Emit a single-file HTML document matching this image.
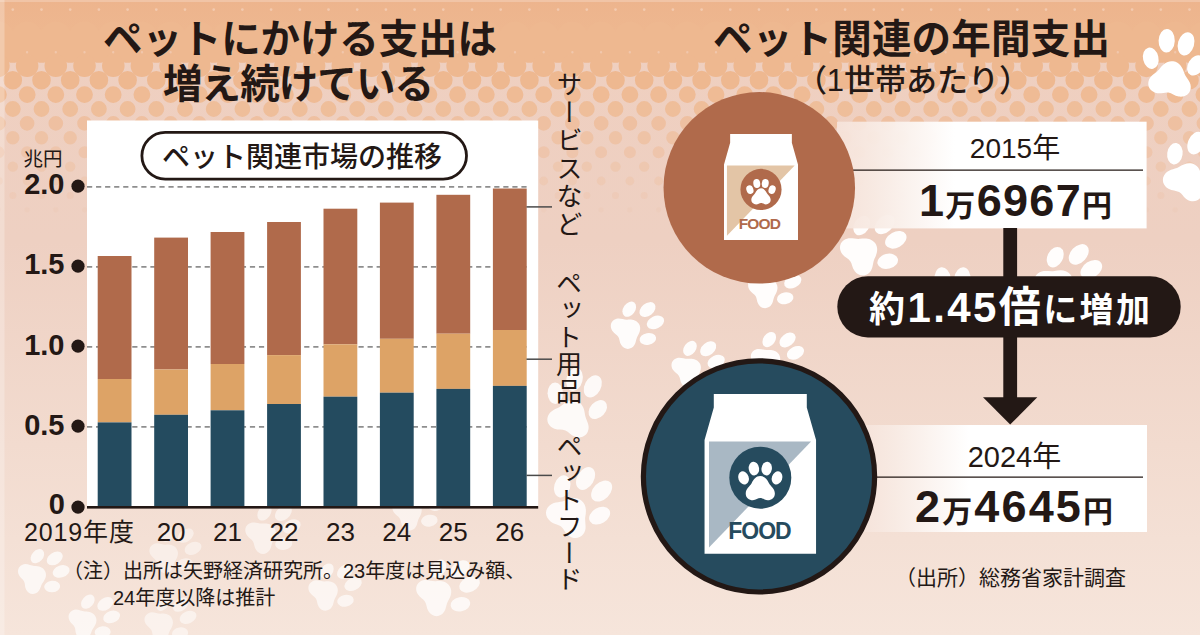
<!DOCTYPE html>
<html lang="ja"><head><meta charset="utf-8"><title>ペットにかける支出は増え続けている</title>
<style>
html,body{margin:0;padding:0;background:#f3ddd4;}
body{width:1200px;height:635px;overflow:hidden;position:relative;font-family:"Liberation Sans","Noto Sans CJK JP",sans-serif;}
svg{position:absolute;left:0;top:0;display:block;}
svg text{font-family:"Liberation Sans","Noto Sans CJK JP",sans-serif;}
</style></head><body>
<svg width="1200" height="635" viewBox="0 0 1200 635" role="img" aria-label="ペット関連市場の推移とペット関連の年間支出"><defs>
<linearGradient id="bg" x1="0" y1="0" x2="0" y2="1">
<stop offset="0" stop-color="#efcfbf"/><stop offset="0.38" stop-color="#eed0c2"/><stop offset="0.7" stop-color="#f2dbcf"/><stop offset="1" stop-color="#f6e5db"/>
</linearGradient>
<linearGradient id="topfade" x1="0" y1="0" x2="0" y2="1">
<stop offset="0" stop-color="#edb48d"/><stop offset="1" stop-color="#eeb890"/>
</linearGradient>
<linearGradient id="box" x1="0" y1="0" x2="1" y2="0">
<stop offset="0" stop-color="#f6e3da" stop-opacity="0.93"/><stop offset="0.12" stop-color="#f8ebe4" stop-opacity="0.95"/><stop offset="0.38" stop-color="#fff" stop-opacity="1"/><stop offset="1" stop-color="#fff"/>
</linearGradient>
<g id="paw">
<ellipse cx="-27" cy="0.5" rx="8.4" ry="10.8" transform="rotate(-20 -27 0.5)"/>
<ellipse cx="-10.3" cy="-14.5" rx="8.4" ry="11" transform="rotate(-8 -10.3 -14.5)"/>
<ellipse cx="10.3" cy="-14.5" rx="8.4" ry="11" transform="rotate(8 10.3 -14.5)"/>
<ellipse cx="27" cy="0.5" rx="8.4" ry="10.8" transform="rotate(20 27 0.5)"/>
<path d="M0,-2.5C7,-2.5 11,3 14,9C17,14.5 23.5,17.5 23.5,25.5C23.5,32.5 18,36.5 12,36.5C7,36.5 4,33 0,33C-4,33 -7,36.5 -12,36.5C-18,36.5 -23.5,32.5 -23.5,25.5C-23.5,17.5 -17,14.5 -14,9C-11,3 -7,-2.5 0,-2.5Z"/>
</g>
<g id="bpaw">
<ellipse cx="-22.8" cy="-17.7" rx="7.7" ry="10.8" transform="rotate(-22 -22.8 -17.7)"/>
<ellipse cx="-9.8" cy="-37.5" rx="8.1" ry="11.8" transform="rotate(-7 -9.8 -37.5)"/>
<ellipse cx="9.8" cy="-37.5" rx="8.1" ry="11.8" transform="rotate(7 9.8 -37.5)"/>
<ellipse cx="22.8" cy="-17.7" rx="7.7" ry="10.8" transform="rotate(22 22.8 -17.7)"/>
<path d="M0.0,-18.2C6.4,-18.2 10.1,-13.4 12.7,-8.2C15.5,-3.3 21.4,-0.8 21.4,6.2C21.4,12.3 16.4,15.8 10.9,15.8C6.4,15.8 3.6,13.4 0.0,13.4C-3.6,13.4 -6.4,15.8 -10.9,15.8C-16.4,15.8 -21.4,12.3 -21.4,6.2C-21.4,-0.8 -15.5,-3.3 -12.7,-8.2C-10.1,-13.4 -6.4,-18.2 0.0,-18.2Z"/>
</g>
<g id="bag">
<path fill="#fff" d="M-46.5,0H46.5V13.5L55.75,46V159.8H-55.75V46L-46.5,13.5Z"/>
</g>
</defs>
<rect width="1200" height="635" fill="url(#bg)"/>
<rect width="1200" height="40" fill="url(#topfade)"/>
<g><path fill="#eeb890" fill-opacity="1.00" d="M-45.8,37.0a15.5,15.5 0 1,0 31.0,0a15.5,15.5 0 1,0 -31.0,0M-17.1,37.0a15.5,15.5 0 1,0 31.0,0a15.5,15.5 0 1,0 -31.0,0M11.6,37.0a15.5,15.5 0 1,0 31.0,0a15.5,15.5 0 1,0 -31.0,0M40.3,37.0a15.5,15.5 0 1,0 31.0,0a15.5,15.5 0 1,0 -31.0,0M69.0,37.0a15.5,15.5 0 1,0 31.0,0a15.5,15.5 0 1,0 -31.0,0M97.8,37.0a15.5,15.5 0 1,0 31.0,0a15.5,15.5 0 1,0 -31.0,0M126.4,37.0a15.5,15.5 0 1,0 31.0,0a15.5,15.5 0 1,0 -31.0,0M155.1,37.0a15.5,15.5 0 1,0 31.0,0a15.5,15.5 0 1,0 -31.0,0M183.8,37.0a15.5,15.5 0 1,0 31.0,0a15.5,15.5 0 1,0 -31.0,0M212.5,37.0a15.5,15.5 0 1,0 31.0,0a15.5,15.5 0 1,0 -31.0,0M241.2,37.0a15.5,15.5 0 1,0 31.0,0a15.5,15.5 0 1,0 -31.0,0M269.9,37.0a15.5,15.5 0 1,0 31.0,0a15.5,15.5 0 1,0 -31.0,0M298.6,37.0a15.5,15.5 0 1,0 31.0,0a15.5,15.5 0 1,0 -31.0,0M327.3,37.0a15.5,15.5 0 1,0 31.0,0a15.5,15.5 0 1,0 -31.0,0M356.0,37.0a15.5,15.5 0 1,0 31.0,0a15.5,15.5 0 1,0 -31.0,0M384.7,37.0a15.5,15.5 0 1,0 31.0,0a15.5,15.5 0 1,0 -31.0,0M413.4,37.0a15.5,15.5 0 1,0 31.0,0a15.5,15.5 0 1,0 -31.0,0M442.1,37.0a15.5,15.5 0 1,0 31.0,0a15.5,15.5 0 1,0 -31.0,0M470.8,37.0a15.5,15.5 0 1,0 31.0,0a15.5,15.5 0 1,0 -31.0,0M499.5,37.0a15.5,15.5 0 1,0 31.0,0a15.5,15.5 0 1,0 -31.0,0M528.2,37.0a15.5,15.5 0 1,0 31.0,0a15.5,15.5 0 1,0 -31.0,0M556.9,37.0a15.5,15.5 0 1,0 31.0,0a15.5,15.5 0 1,0 -31.0,0M585.6,37.0a15.5,15.5 0 1,0 31.0,0a15.5,15.5 0 1,0 -31.0,0M614.4,37.0a15.5,15.5 0 1,0 31.0,0a15.5,15.5 0 1,0 -31.0,0M643.1,37.0a15.5,15.5 0 1,0 31.0,0a15.5,15.5 0 1,0 -31.0,0M671.8,37.0a15.5,15.5 0 1,0 31.0,0a15.5,15.5 0 1,0 -31.0,0M700.5,37.0a15.5,15.5 0 1,0 31.0,0a15.5,15.5 0 1,0 -31.0,0M729.2,37.0a15.5,15.5 0 1,0 31.0,0a15.5,15.5 0 1,0 -31.0,0M757.9,37.0a15.5,15.5 0 1,0 31.0,0a15.5,15.5 0 1,0 -31.0,0M786.6,37.0a15.5,15.5 0 1,0 31.0,0a15.5,15.5 0 1,0 -31.0,0M815.3,37.0a15.5,15.5 0 1,0 31.0,0a15.5,15.5 0 1,0 -31.0,0M844.0,37.0a15.5,15.5 0 1,0 31.0,0a15.5,15.5 0 1,0 -31.0,0M872.7,37.0a15.5,15.5 0 1,0 31.0,0a15.5,15.5 0 1,0 -31.0,0M901.4,37.0a15.5,15.5 0 1,0 31.0,0a15.5,15.5 0 1,0 -31.0,0M930.1,37.0a15.5,15.5 0 1,0 31.0,0a15.5,15.5 0 1,0 -31.0,0M958.8,37.0a15.5,15.5 0 1,0 31.0,0a15.5,15.5 0 1,0 -31.0,0M987.5,37.0a15.5,15.5 0 1,0 31.0,0a15.5,15.5 0 1,0 -31.0,0M1016.2,37.0a15.5,15.5 0 1,0 31.0,0a15.5,15.5 0 1,0 -31.0,0M1044.9,37.0a15.5,15.5 0 1,0 31.0,0a15.5,15.5 0 1,0 -31.0,0M1073.6,37.0a15.5,15.5 0 1,0 31.0,0a15.5,15.5 0 1,0 -31.0,0M1102.3,37.0a15.5,15.5 0 1,0 31.0,0a15.5,15.5 0 1,0 -31.0,0M1131.0,37.0a15.5,15.5 0 1,0 31.0,0a15.5,15.5 0 1,0 -31.0,0M1159.7,37.0a15.5,15.5 0 1,0 31.0,0a15.5,15.5 0 1,0 -31.0,0M1188.4,37.0a15.5,15.5 0 1,0 31.0,0a15.5,15.5 0 1,0 -31.0,0"/><path fill="#eeb890" fill-opacity="1.00" d="M-56.0,51.4a11.4,11.4 0 1,0 22.8,0a11.4,11.4 0 1,0 -22.8,0M-27.3,51.4a11.4,11.4 0 1,0 22.8,0a11.4,11.4 0 1,0 -22.8,0M1.4,51.4a11.4,11.4 0 1,0 22.8,0a11.4,11.4 0 1,0 -22.8,0M30.1,51.4a11.4,11.4 0 1,0 22.8,0a11.4,11.4 0 1,0 -22.8,0M58.8,51.4a11.4,11.4 0 1,0 22.8,0a11.4,11.4 0 1,0 -22.8,0M87.5,51.4a11.4,11.4 0 1,0 22.8,0a11.4,11.4 0 1,0 -22.8,0M116.2,51.4a11.4,11.4 0 1,0 22.8,0a11.4,11.4 0 1,0 -22.8,0M144.9,51.4a11.4,11.4 0 1,0 22.8,0a11.4,11.4 0 1,0 -22.8,0M173.6,51.4a11.4,11.4 0 1,0 22.8,0a11.4,11.4 0 1,0 -22.8,0M202.3,51.4a11.4,11.4 0 1,0 22.8,0a11.4,11.4 0 1,0 -22.8,0M231.0,51.4a11.4,11.4 0 1,0 22.8,0a11.4,11.4 0 1,0 -22.8,0M259.7,51.4a11.4,11.4 0 1,0 22.8,0a11.4,11.4 0 1,0 -22.8,0M288.4,51.4a11.4,11.4 0 1,0 22.8,0a11.4,11.4 0 1,0 -22.8,0M317.1,51.4a11.4,11.4 0 1,0 22.8,0a11.4,11.4 0 1,0 -22.8,0M345.8,51.4a11.4,11.4 0 1,0 22.8,0a11.4,11.4 0 1,0 -22.8,0M374.5,51.4a11.4,11.4 0 1,0 22.8,0a11.4,11.4 0 1,0 -22.8,0M403.2,51.4a11.4,11.4 0 1,0 22.8,0a11.4,11.4 0 1,0 -22.8,0M431.9,51.4a11.4,11.4 0 1,0 22.8,0a11.4,11.4 0 1,0 -22.8,0M460.6,51.4a11.4,11.4 0 1,0 22.8,0a11.4,11.4 0 1,0 -22.8,0M489.3,51.4a11.4,11.4 0 1,0 22.8,0a11.4,11.4 0 1,0 -22.8,0M518.0,51.4a11.4,11.4 0 1,0 22.8,0a11.4,11.4 0 1,0 -22.8,0M546.7,51.4a11.4,11.4 0 1,0 22.8,0a11.4,11.4 0 1,0 -22.8,0M575.4,51.4a11.4,11.4 0 1,0 22.8,0a11.4,11.4 0 1,0 -22.8,0M604.1,51.4a11.4,11.4 0 1,0 22.8,0a11.4,11.4 0 1,0 -22.8,0M632.8,51.4a11.4,11.4 0 1,0 22.8,0a11.4,11.4 0 1,0 -22.8,0M661.5,51.4a11.4,11.4 0 1,0 22.8,0a11.4,11.4 0 1,0 -22.8,0M690.2,51.4a11.4,11.4 0 1,0 22.8,0a11.4,11.4 0 1,0 -22.8,0M718.9,51.4a11.4,11.4 0 1,0 22.8,0a11.4,11.4 0 1,0 -22.8,0M747.6,51.4a11.4,11.4 0 1,0 22.8,0a11.4,11.4 0 1,0 -22.8,0M776.3,51.4a11.4,11.4 0 1,0 22.8,0a11.4,11.4 0 1,0 -22.8,0M805.0,51.4a11.4,11.4 0 1,0 22.8,0a11.4,11.4 0 1,0 -22.8,0M833.7,51.4a11.4,11.4 0 1,0 22.8,0a11.4,11.4 0 1,0 -22.8,0M862.4,51.4a11.4,11.4 0 1,0 22.8,0a11.4,11.4 0 1,0 -22.8,0M891.1,51.4a11.4,11.4 0 1,0 22.8,0a11.4,11.4 0 1,0 -22.8,0M919.8,51.4a11.4,11.4 0 1,0 22.8,0a11.4,11.4 0 1,0 -22.8,0M948.5,51.4a11.4,11.4 0 1,0 22.8,0a11.4,11.4 0 1,0 -22.8,0M977.2,51.4a11.4,11.4 0 1,0 22.8,0a11.4,11.4 0 1,0 -22.8,0M1005.9,51.4a11.4,11.4 0 1,0 22.8,0a11.4,11.4 0 1,0 -22.8,0M1034.6,51.4a11.4,11.4 0 1,0 22.8,0a11.4,11.4 0 1,0 -22.8,0M1063.3,51.4a11.4,11.4 0 1,0 22.8,0a11.4,11.4 0 1,0 -22.8,0M1092.0,51.4a11.4,11.4 0 1,0 22.8,0a11.4,11.4 0 1,0 -22.8,0M1120.7,51.4a11.4,11.4 0 1,0 22.8,0a11.4,11.4 0 1,0 -22.8,0M1149.4,51.4a11.4,11.4 0 1,0 22.8,0a11.4,11.4 0 1,0 -22.8,0M1178.1,51.4a11.4,11.4 0 1,0 22.8,0a11.4,11.4 0 1,0 -22.8,0M1206.8,51.4a11.4,11.4 0 1,0 22.8,0a11.4,11.4 0 1,0 -22.8,0"/><path fill="#eeb890" fill-opacity="1.00" d="M-41.5,65.8a11.3,11.3 0 1,0 22.6,0a11.3,11.3 0 1,0 -22.6,0M-12.9,65.8a11.3,11.3 0 1,0 22.6,0a11.3,11.3 0 1,0 -22.6,0M15.8,65.8a11.3,11.3 0 1,0 22.6,0a11.3,11.3 0 1,0 -22.6,0M44.5,65.8a11.3,11.3 0 1,0 22.6,0a11.3,11.3 0 1,0 -22.6,0M73.2,65.8a11.3,11.3 0 1,0 22.6,0a11.3,11.3 0 1,0 -22.6,0M102.0,65.8a11.3,11.3 0 1,0 22.6,0a11.3,11.3 0 1,0 -22.6,0M130.6,65.8a11.3,11.3 0 1,0 22.6,0a11.3,11.3 0 1,0 -22.6,0M159.3,65.8a11.3,11.3 0 1,0 22.6,0a11.3,11.3 0 1,0 -22.6,0M188.0,65.8a11.3,11.3 0 1,0 22.6,0a11.3,11.3 0 1,0 -22.6,0M216.7,65.8a11.3,11.3 0 1,0 22.6,0a11.3,11.3 0 1,0 -22.6,0M245.4,65.8a11.3,11.3 0 1,0 22.6,0a11.3,11.3 0 1,0 -22.6,0M274.1,65.8a11.3,11.3 0 1,0 22.6,0a11.3,11.3 0 1,0 -22.6,0M302.8,65.8a11.3,11.3 0 1,0 22.6,0a11.3,11.3 0 1,0 -22.6,0M331.5,65.8a11.3,11.3 0 1,0 22.6,0a11.3,11.3 0 1,0 -22.6,0M360.2,65.8a11.3,11.3 0 1,0 22.6,0a11.3,11.3 0 1,0 -22.6,0M388.9,65.8a11.3,11.3 0 1,0 22.6,0a11.3,11.3 0 1,0 -22.6,0M417.6,65.8a11.3,11.3 0 1,0 22.6,0a11.3,11.3 0 1,0 -22.6,0M446.3,65.8a11.3,11.3 0 1,0 22.6,0a11.3,11.3 0 1,0 -22.6,0M475.0,65.8a11.3,11.3 0 1,0 22.6,0a11.3,11.3 0 1,0 -22.6,0M503.7,65.8a11.3,11.3 0 1,0 22.6,0a11.3,11.3 0 1,0 -22.6,0M532.4,65.8a11.3,11.3 0 1,0 22.6,0a11.3,11.3 0 1,0 -22.6,0M561.1,65.8a11.3,11.3 0 1,0 22.6,0a11.3,11.3 0 1,0 -22.6,0M589.9,65.8a11.3,11.3 0 1,0 22.6,0a11.3,11.3 0 1,0 -22.6,0M618.6,65.8a11.3,11.3 0 1,0 22.6,0a11.3,11.3 0 1,0 -22.6,0M647.3,65.8a11.3,11.3 0 1,0 22.6,0a11.3,11.3 0 1,0 -22.6,0M676.0,65.8a11.3,11.3 0 1,0 22.6,0a11.3,11.3 0 1,0 -22.6,0M704.7,65.8a11.3,11.3 0 1,0 22.6,0a11.3,11.3 0 1,0 -22.6,0M733.4,65.8a11.3,11.3 0 1,0 22.6,0a11.3,11.3 0 1,0 -22.6,0M762.1,65.8a11.3,11.3 0 1,0 22.6,0a11.3,11.3 0 1,0 -22.6,0M790.8,65.8a11.3,11.3 0 1,0 22.6,0a11.3,11.3 0 1,0 -22.6,0M819.5,65.8a11.3,11.3 0 1,0 22.6,0a11.3,11.3 0 1,0 -22.6,0M848.2,65.8a11.3,11.3 0 1,0 22.6,0a11.3,11.3 0 1,0 -22.6,0M876.9,65.8a11.3,11.3 0 1,0 22.6,0a11.3,11.3 0 1,0 -22.6,0M905.6,65.8a11.3,11.3 0 1,0 22.6,0a11.3,11.3 0 1,0 -22.6,0M934.3,65.8a11.3,11.3 0 1,0 22.6,0a11.3,11.3 0 1,0 -22.6,0M963.0,65.8a11.3,11.3 0 1,0 22.6,0a11.3,11.3 0 1,0 -22.6,0M991.7,65.8a11.3,11.3 0 1,0 22.6,0a11.3,11.3 0 1,0 -22.6,0M1020.4,65.8a11.3,11.3 0 1,0 22.6,0a11.3,11.3 0 1,0 -22.6,0M1049.1,65.8a11.3,11.3 0 1,0 22.6,0a11.3,11.3 0 1,0 -22.6,0M1077.8,65.8a11.3,11.3 0 1,0 22.6,0a11.3,11.3 0 1,0 -22.6,0M1106.5,65.8a11.3,11.3 0 1,0 22.6,0a11.3,11.3 0 1,0 -22.6,0M1135.2,65.8a11.3,11.3 0 1,0 22.6,0a11.3,11.3 0 1,0 -22.6,0M1163.9,65.8a11.3,11.3 0 1,0 22.6,0a11.3,11.3 0 1,0 -22.6,0M1192.6,65.8a11.3,11.3 0 1,0 22.6,0a11.3,11.3 0 1,0 -22.6,0"/><path fill="#eeb890" fill-opacity="1.00" d="M-53.9,80.2a9.3,9.3 0 1,0 18.6,0a9.3,9.3 0 1,0 -18.6,0M-25.2,80.2a9.3,9.3 0 1,0 18.6,0a9.3,9.3 0 1,0 -18.6,0M3.5,80.2a9.3,9.3 0 1,0 18.6,0a9.3,9.3 0 1,0 -18.6,0M32.2,80.2a9.3,9.3 0 1,0 18.6,0a9.3,9.3 0 1,0 -18.6,0M60.9,80.2a9.3,9.3 0 1,0 18.6,0a9.3,9.3 0 1,0 -18.6,0M89.6,80.2a9.3,9.3 0 1,0 18.6,0a9.3,9.3 0 1,0 -18.6,0M118.3,80.2a9.3,9.3 0 1,0 18.6,0a9.3,9.3 0 1,0 -18.6,0M147.0,80.2a9.3,9.3 0 1,0 18.6,0a9.3,9.3 0 1,0 -18.6,0M175.7,80.2a9.3,9.3 0 1,0 18.6,0a9.3,9.3 0 1,0 -18.6,0M204.4,80.2a9.3,9.3 0 1,0 18.6,0a9.3,9.3 0 1,0 -18.6,0M233.1,80.2a9.3,9.3 0 1,0 18.6,0a9.3,9.3 0 1,0 -18.6,0M261.8,80.2a9.3,9.3 0 1,0 18.6,0a9.3,9.3 0 1,0 -18.6,0M290.5,80.2a9.3,9.3 0 1,0 18.6,0a9.3,9.3 0 1,0 -18.6,0M319.2,80.2a9.3,9.3 0 1,0 18.6,0a9.3,9.3 0 1,0 -18.6,0M347.9,80.2a9.3,9.3 0 1,0 18.6,0a9.3,9.3 0 1,0 -18.6,0M376.6,80.2a9.3,9.3 0 1,0 18.6,0a9.3,9.3 0 1,0 -18.6,0M405.3,80.2a9.3,9.3 0 1,0 18.6,0a9.3,9.3 0 1,0 -18.6,0M434.0,80.2a9.3,9.3 0 1,0 18.6,0a9.3,9.3 0 1,0 -18.6,0M462.7,80.2a9.3,9.3 0 1,0 18.6,0a9.3,9.3 0 1,0 -18.6,0M491.4,80.2a9.3,9.3 0 1,0 18.6,0a9.3,9.3 0 1,0 -18.6,0M520.1,80.2a9.3,9.3 0 1,0 18.6,0a9.3,9.3 0 1,0 -18.6,0M548.8,80.2a9.3,9.3 0 1,0 18.6,0a9.3,9.3 0 1,0 -18.6,0M577.5,80.2a9.3,9.3 0 1,0 18.6,0a9.3,9.3 0 1,0 -18.6,0M606.2,80.2a9.3,9.3 0 1,0 18.6,0a9.3,9.3 0 1,0 -18.6,0M634.9,80.2a9.3,9.3 0 1,0 18.6,0a9.3,9.3 0 1,0 -18.6,0M663.6,80.2a9.3,9.3 0 1,0 18.6,0a9.3,9.3 0 1,0 -18.6,0M692.3,80.2a9.3,9.3 0 1,0 18.6,0a9.3,9.3 0 1,0 -18.6,0M721.0,80.2a9.3,9.3 0 1,0 18.6,0a9.3,9.3 0 1,0 -18.6,0M749.7,80.2a9.3,9.3 0 1,0 18.6,0a9.3,9.3 0 1,0 -18.6,0M778.4,80.2a9.3,9.3 0 1,0 18.6,0a9.3,9.3 0 1,0 -18.6,0M807.1,80.2a9.3,9.3 0 1,0 18.6,0a9.3,9.3 0 1,0 -18.6,0M835.8,80.2a9.3,9.3 0 1,0 18.6,0a9.3,9.3 0 1,0 -18.6,0M864.5,80.2a9.3,9.3 0 1,0 18.6,0a9.3,9.3 0 1,0 -18.6,0M893.2,80.2a9.3,9.3 0 1,0 18.6,0a9.3,9.3 0 1,0 -18.6,0M921.9,80.2a9.3,9.3 0 1,0 18.6,0a9.3,9.3 0 1,0 -18.6,0M950.6,80.2a9.3,9.3 0 1,0 18.6,0a9.3,9.3 0 1,0 -18.6,0M979.3,80.2a9.3,9.3 0 1,0 18.6,0a9.3,9.3 0 1,0 -18.6,0M1008.0,80.2a9.3,9.3 0 1,0 18.6,0a9.3,9.3 0 1,0 -18.6,0M1036.7,80.2a9.3,9.3 0 1,0 18.6,0a9.3,9.3 0 1,0 -18.6,0M1065.4,80.2a9.3,9.3 0 1,0 18.6,0a9.3,9.3 0 1,0 -18.6,0M1094.1,80.2a9.3,9.3 0 1,0 18.6,0a9.3,9.3 0 1,0 -18.6,0M1122.8,80.2a9.3,9.3 0 1,0 18.6,0a9.3,9.3 0 1,0 -18.6,0M1151.5,80.2a9.3,9.3 0 1,0 18.6,0a9.3,9.3 0 1,0 -18.6,0M1180.2,80.2a9.3,9.3 0 1,0 18.6,0a9.3,9.3 0 1,0 -18.6,0M1208.9,80.2a9.3,9.3 0 1,0 18.6,0a9.3,9.3 0 1,0 -18.6,0"/><path fill="#eeb890" fill-opacity="0.90" d="M-38.6,94.6a8.4,8.4 0 1,0 16.8,0a8.4,8.4 0 1,0 -16.8,0M-10.0,94.6a8.4,8.4 0 1,0 16.8,0a8.4,8.4 0 1,0 -16.8,0M18.8,94.6a8.4,8.4 0 1,0 16.8,0a8.4,8.4 0 1,0 -16.8,0M47.4,94.6a8.4,8.4 0 1,0 16.8,0a8.4,8.4 0 1,0 -16.8,0M76.1,94.6a8.4,8.4 0 1,0 16.8,0a8.4,8.4 0 1,0 -16.8,0M104.8,94.6a8.4,8.4 0 1,0 16.8,0a8.4,8.4 0 1,0 -16.8,0M133.5,94.6a8.4,8.4 0 1,0 16.8,0a8.4,8.4 0 1,0 -16.8,0M162.2,94.6a8.4,8.4 0 1,0 16.8,0a8.4,8.4 0 1,0 -16.8,0M190.9,94.6a8.4,8.4 0 1,0 16.8,0a8.4,8.4 0 1,0 -16.8,0M219.6,94.6a8.4,8.4 0 1,0 16.8,0a8.4,8.4 0 1,0 -16.8,0M248.3,94.6a8.4,8.4 0 1,0 16.8,0a8.4,8.4 0 1,0 -16.8,0M277.0,94.6a8.4,8.4 0 1,0 16.8,0a8.4,8.4 0 1,0 -16.8,0M305.7,94.6a8.4,8.4 0 1,0 16.8,0a8.4,8.4 0 1,0 -16.8,0M334.4,94.6a8.4,8.4 0 1,0 16.8,0a8.4,8.4 0 1,0 -16.8,0M363.1,94.6a8.4,8.4 0 1,0 16.8,0a8.4,8.4 0 1,0 -16.8,0M391.8,94.6a8.4,8.4 0 1,0 16.8,0a8.4,8.4 0 1,0 -16.8,0M420.5,94.6a8.4,8.4 0 1,0 16.8,0a8.4,8.4 0 1,0 -16.8,0M449.2,94.6a8.4,8.4 0 1,0 16.8,0a8.4,8.4 0 1,0 -16.8,0M477.9,94.6a8.4,8.4 0 1,0 16.8,0a8.4,8.4 0 1,0 -16.8,0M506.6,94.6a8.4,8.4 0 1,0 16.8,0a8.4,8.4 0 1,0 -16.8,0M535.3,94.6a8.4,8.4 0 1,0 16.8,0a8.4,8.4 0 1,0 -16.8,0M564.0,94.6a8.4,8.4 0 1,0 16.8,0a8.4,8.4 0 1,0 -16.8,0M592.8,94.6a8.4,8.4 0 1,0 16.8,0a8.4,8.4 0 1,0 -16.8,0M621.5,94.6a8.4,8.4 0 1,0 16.8,0a8.4,8.4 0 1,0 -16.8,0M650.2,94.6a8.4,8.4 0 1,0 16.8,0a8.4,8.4 0 1,0 -16.8,0M678.9,94.6a8.4,8.4 0 1,0 16.8,0a8.4,8.4 0 1,0 -16.8,0M707.6,94.6a8.4,8.4 0 1,0 16.8,0a8.4,8.4 0 1,0 -16.8,0M736.3,94.6a8.4,8.4 0 1,0 16.8,0a8.4,8.4 0 1,0 -16.8,0M765.0,94.6a8.4,8.4 0 1,0 16.8,0a8.4,8.4 0 1,0 -16.8,0M793.7,94.6a8.4,8.4 0 1,0 16.8,0a8.4,8.4 0 1,0 -16.8,0M822.4,94.6a8.4,8.4 0 1,0 16.8,0a8.4,8.4 0 1,0 -16.8,0M851.1,94.6a8.4,8.4 0 1,0 16.8,0a8.4,8.4 0 1,0 -16.8,0M879.8,94.6a8.4,8.4 0 1,0 16.8,0a8.4,8.4 0 1,0 -16.8,0M908.5,94.6a8.4,8.4 0 1,0 16.8,0a8.4,8.4 0 1,0 -16.8,0M937.2,94.6a8.4,8.4 0 1,0 16.8,0a8.4,8.4 0 1,0 -16.8,0M965.9,94.6a8.4,8.4 0 1,0 16.8,0a8.4,8.4 0 1,0 -16.8,0M994.6,94.6a8.4,8.4 0 1,0 16.8,0a8.4,8.4 0 1,0 -16.8,0M1023.3,94.6a8.4,8.4 0 1,0 16.8,0a8.4,8.4 0 1,0 -16.8,0M1052.0,94.6a8.4,8.4 0 1,0 16.8,0a8.4,8.4 0 1,0 -16.8,0M1080.7,94.6a8.4,8.4 0 1,0 16.8,0a8.4,8.4 0 1,0 -16.8,0M1109.4,94.6a8.4,8.4 0 1,0 16.8,0a8.4,8.4 0 1,0 -16.8,0M1138.1,94.6a8.4,8.4 0 1,0 16.8,0a8.4,8.4 0 1,0 -16.8,0M1166.8,94.6a8.4,8.4 0 1,0 16.8,0a8.4,8.4 0 1,0 -16.8,0M1195.5,94.6a8.4,8.4 0 1,0 16.8,0a8.4,8.4 0 1,0 -16.8,0"/><path fill="#eeb890" fill-opacity="0.78" d="M-52.5,109.0a7.9,7.9 0 1,0 15.8,0a7.9,7.9 0 1,0 -15.8,0M-23.8,109.0a7.9,7.9 0 1,0 15.8,0a7.9,7.9 0 1,0 -15.8,0M4.9,109.0a7.9,7.9 0 1,0 15.8,0a7.9,7.9 0 1,0 -15.8,0M33.6,109.0a7.9,7.9 0 1,0 15.8,0a7.9,7.9 0 1,0 -15.8,0M62.3,109.0a7.9,7.9 0 1,0 15.8,0a7.9,7.9 0 1,0 -15.8,0M91.0,109.0a7.9,7.9 0 1,0 15.8,0a7.9,7.9 0 1,0 -15.8,0M119.7,109.0a7.9,7.9 0 1,0 15.8,0a7.9,7.9 0 1,0 -15.8,0M148.4,109.0a7.9,7.9 0 1,0 15.8,0a7.9,7.9 0 1,0 -15.8,0M177.1,109.0a7.9,7.9 0 1,0 15.8,0a7.9,7.9 0 1,0 -15.8,0M205.8,109.0a7.9,7.9 0 1,0 15.8,0a7.9,7.9 0 1,0 -15.8,0M234.5,109.0a7.9,7.9 0 1,0 15.8,0a7.9,7.9 0 1,0 -15.8,0M263.2,109.0a7.9,7.9 0 1,0 15.8,0a7.9,7.9 0 1,0 -15.8,0M291.9,109.0a7.9,7.9 0 1,0 15.8,0a7.9,7.9 0 1,0 -15.8,0M320.6,109.0a7.9,7.9 0 1,0 15.8,0a7.9,7.9 0 1,0 -15.8,0M349.3,109.0a7.9,7.9 0 1,0 15.8,0a7.9,7.9 0 1,0 -15.8,0M378.0,109.0a7.9,7.9 0 1,0 15.8,0a7.9,7.9 0 1,0 -15.8,0M406.7,109.0a7.9,7.9 0 1,0 15.8,0a7.9,7.9 0 1,0 -15.8,0M435.4,109.0a7.9,7.9 0 1,0 15.8,0a7.9,7.9 0 1,0 -15.8,0M464.1,109.0a7.9,7.9 0 1,0 15.8,0a7.9,7.9 0 1,0 -15.8,0M492.8,109.0a7.9,7.9 0 1,0 15.8,0a7.9,7.9 0 1,0 -15.8,0M521.5,109.0a7.9,7.9 0 1,0 15.8,0a7.9,7.9 0 1,0 -15.8,0M550.2,109.0a7.9,7.9 0 1,0 15.8,0a7.9,7.9 0 1,0 -15.8,0M578.9,109.0a7.9,7.9 0 1,0 15.8,0a7.9,7.9 0 1,0 -15.8,0M607.6,109.0a7.9,7.9 0 1,0 15.8,0a7.9,7.9 0 1,0 -15.8,0M636.3,109.0a7.9,7.9 0 1,0 15.8,0a7.9,7.9 0 1,0 -15.8,0M665.0,109.0a7.9,7.9 0 1,0 15.8,0a7.9,7.9 0 1,0 -15.8,0M693.7,109.0a7.9,7.9 0 1,0 15.8,0a7.9,7.9 0 1,0 -15.8,0M722.4,109.0a7.9,7.9 0 1,0 15.8,0a7.9,7.9 0 1,0 -15.8,0M751.1,109.0a7.9,7.9 0 1,0 15.8,0a7.9,7.9 0 1,0 -15.8,0M779.8,109.0a7.9,7.9 0 1,0 15.8,0a7.9,7.9 0 1,0 -15.8,0M808.5,109.0a7.9,7.9 0 1,0 15.8,0a7.9,7.9 0 1,0 -15.8,0M837.2,109.0a7.9,7.9 0 1,0 15.8,0a7.9,7.9 0 1,0 -15.8,0M865.9,109.0a7.9,7.9 0 1,0 15.8,0a7.9,7.9 0 1,0 -15.8,0M894.6,109.0a7.9,7.9 0 1,0 15.8,0a7.9,7.9 0 1,0 -15.8,0M923.3,109.0a7.9,7.9 0 1,0 15.8,0a7.9,7.9 0 1,0 -15.8,0M952.0,109.0a7.9,7.9 0 1,0 15.8,0a7.9,7.9 0 1,0 -15.8,0M980.7,109.0a7.9,7.9 0 1,0 15.8,0a7.9,7.9 0 1,0 -15.8,0M1009.4,109.0a7.9,7.9 0 1,0 15.8,0a7.9,7.9 0 1,0 -15.8,0M1038.1,109.0a7.9,7.9 0 1,0 15.8,0a7.9,7.9 0 1,0 -15.8,0M1066.8,109.0a7.9,7.9 0 1,0 15.8,0a7.9,7.9 0 1,0 -15.8,0M1095.5,109.0a7.9,7.9 0 1,0 15.8,0a7.9,7.9 0 1,0 -15.8,0M1124.2,109.0a7.9,7.9 0 1,0 15.8,0a7.9,7.9 0 1,0 -15.8,0M1152.9,109.0a7.9,7.9 0 1,0 15.8,0a7.9,7.9 0 1,0 -15.8,0M1181.6,109.0a7.9,7.9 0 1,0 15.8,0a7.9,7.9 0 1,0 -15.8,0M1210.3,109.0a7.9,7.9 0 1,0 15.8,0a7.9,7.9 0 1,0 -15.8,0"/><path fill="#eeb890" fill-opacity="0.66" d="M-37.5,123.4a7.3,7.3 0 1,0 14.6,0a7.3,7.3 0 1,0 -14.6,0M-8.9,123.4a7.3,7.3 0 1,0 14.6,0a7.3,7.3 0 1,0 -14.6,0M19.8,123.4a7.3,7.3 0 1,0 14.6,0a7.3,7.3 0 1,0 -14.6,0M48.5,123.4a7.3,7.3 0 1,0 14.6,0a7.3,7.3 0 1,0 -14.6,0M77.2,123.4a7.3,7.3 0 1,0 14.6,0a7.3,7.3 0 1,0 -14.6,0M106.0,123.4a7.3,7.3 0 1,0 14.6,0a7.3,7.3 0 1,0 -14.6,0M134.6,123.4a7.3,7.3 0 1,0 14.6,0a7.3,7.3 0 1,0 -14.6,0M163.3,123.4a7.3,7.3 0 1,0 14.6,0a7.3,7.3 0 1,0 -14.6,0M192.0,123.4a7.3,7.3 0 1,0 14.6,0a7.3,7.3 0 1,0 -14.6,0M220.7,123.4a7.3,7.3 0 1,0 14.6,0a7.3,7.3 0 1,0 -14.6,0M249.4,123.4a7.3,7.3 0 1,0 14.6,0a7.3,7.3 0 1,0 -14.6,0M278.1,123.4a7.3,7.3 0 1,0 14.6,0a7.3,7.3 0 1,0 -14.6,0M306.8,123.4a7.3,7.3 0 1,0 14.6,0a7.3,7.3 0 1,0 -14.6,0M335.5,123.4a7.3,7.3 0 1,0 14.6,0a7.3,7.3 0 1,0 -14.6,0M364.2,123.4a7.3,7.3 0 1,0 14.6,0a7.3,7.3 0 1,0 -14.6,0M392.9,123.4a7.3,7.3 0 1,0 14.6,0a7.3,7.3 0 1,0 -14.6,0M421.6,123.4a7.3,7.3 0 1,0 14.6,0a7.3,7.3 0 1,0 -14.6,0M450.3,123.4a7.3,7.3 0 1,0 14.6,0a7.3,7.3 0 1,0 -14.6,0M479.0,123.4a7.3,7.3 0 1,0 14.6,0a7.3,7.3 0 1,0 -14.6,0M507.7,123.4a7.3,7.3 0 1,0 14.6,0a7.3,7.3 0 1,0 -14.6,0M536.4,123.4a7.3,7.3 0 1,0 14.6,0a7.3,7.3 0 1,0 -14.6,0M565.1,123.4a7.3,7.3 0 1,0 14.6,0a7.3,7.3 0 1,0 -14.6,0M593.9,123.4a7.3,7.3 0 1,0 14.6,0a7.3,7.3 0 1,0 -14.6,0M622.6,123.4a7.3,7.3 0 1,0 14.6,0a7.3,7.3 0 1,0 -14.6,0M651.3,123.4a7.3,7.3 0 1,0 14.6,0a7.3,7.3 0 1,0 -14.6,0M680.0,123.4a7.3,7.3 0 1,0 14.6,0a7.3,7.3 0 1,0 -14.6,0M708.7,123.4a7.3,7.3 0 1,0 14.6,0a7.3,7.3 0 1,0 -14.6,0M737.4,123.4a7.3,7.3 0 1,0 14.6,0a7.3,7.3 0 1,0 -14.6,0M766.1,123.4a7.3,7.3 0 1,0 14.6,0a7.3,7.3 0 1,0 -14.6,0M794.8,123.4a7.3,7.3 0 1,0 14.6,0a7.3,7.3 0 1,0 -14.6,0M823.5,123.4a7.3,7.3 0 1,0 14.6,0a7.3,7.3 0 1,0 -14.6,0M852.2,123.4a7.3,7.3 0 1,0 14.6,0a7.3,7.3 0 1,0 -14.6,0M880.9,123.4a7.3,7.3 0 1,0 14.6,0a7.3,7.3 0 1,0 -14.6,0M909.6,123.4a7.3,7.3 0 1,0 14.6,0a7.3,7.3 0 1,0 -14.6,0M938.3,123.4a7.3,7.3 0 1,0 14.6,0a7.3,7.3 0 1,0 -14.6,0M967.0,123.4a7.3,7.3 0 1,0 14.6,0a7.3,7.3 0 1,0 -14.6,0M995.7,123.4a7.3,7.3 0 1,0 14.6,0a7.3,7.3 0 1,0 -14.6,0M1024.4,123.4a7.3,7.3 0 1,0 14.6,0a7.3,7.3 0 1,0 -14.6,0M1053.1,123.4a7.3,7.3 0 1,0 14.6,0a7.3,7.3 0 1,0 -14.6,0M1081.8,123.4a7.3,7.3 0 1,0 14.6,0a7.3,7.3 0 1,0 -14.6,0M1110.5,123.4a7.3,7.3 0 1,0 14.6,0a7.3,7.3 0 1,0 -14.6,0M1139.2,123.4a7.3,7.3 0 1,0 14.6,0a7.3,7.3 0 1,0 -14.6,0M1167.9,123.4a7.3,7.3 0 1,0 14.6,0a7.3,7.3 0 1,0 -14.6,0M1196.6,123.4a7.3,7.3 0 1,0 14.6,0a7.3,7.3 0 1,0 -14.6,0"/><path fill="#eeb890" fill-opacity="0.54" d="M-51.3,137.8a6.7,6.7 0 1,0 13.4,0a6.7,6.7 0 1,0 -13.4,0M-22.6,137.8a6.7,6.7 0 1,0 13.4,0a6.7,6.7 0 1,0 -13.4,0M6.1,137.8a6.7,6.7 0 1,0 13.4,0a6.7,6.7 0 1,0 -13.4,0M34.8,137.8a6.7,6.7 0 1,0 13.4,0a6.7,6.7 0 1,0 -13.4,0M63.5,137.8a6.7,6.7 0 1,0 13.4,0a6.7,6.7 0 1,0 -13.4,0M92.2,137.8a6.7,6.7 0 1,0 13.4,0a6.7,6.7 0 1,0 -13.4,0M120.9,137.8a6.7,6.7 0 1,0 13.4,0a6.7,6.7 0 1,0 -13.4,0M149.6,137.8a6.7,6.7 0 1,0 13.4,0a6.7,6.7 0 1,0 -13.4,0M178.3,137.8a6.7,6.7 0 1,0 13.4,0a6.7,6.7 0 1,0 -13.4,0M207.0,137.8a6.7,6.7 0 1,0 13.4,0a6.7,6.7 0 1,0 -13.4,0M235.7,137.8a6.7,6.7 0 1,0 13.4,0a6.7,6.7 0 1,0 -13.4,0M264.4,137.8a6.7,6.7 0 1,0 13.4,0a6.7,6.7 0 1,0 -13.4,0M293.1,137.8a6.7,6.7 0 1,0 13.4,0a6.7,6.7 0 1,0 -13.4,0M321.8,137.8a6.7,6.7 0 1,0 13.4,0a6.7,6.7 0 1,0 -13.4,0M350.5,137.8a6.7,6.7 0 1,0 13.4,0a6.7,6.7 0 1,0 -13.4,0M379.2,137.8a6.7,6.7 0 1,0 13.4,0a6.7,6.7 0 1,0 -13.4,0M407.9,137.8a6.7,6.7 0 1,0 13.4,0a6.7,6.7 0 1,0 -13.4,0M436.6,137.8a6.7,6.7 0 1,0 13.4,0a6.7,6.7 0 1,0 -13.4,0M465.3,137.8a6.7,6.7 0 1,0 13.4,0a6.7,6.7 0 1,0 -13.4,0M494.0,137.8a6.7,6.7 0 1,0 13.4,0a6.7,6.7 0 1,0 -13.4,0M522.7,137.8a6.7,6.7 0 1,0 13.4,0a6.7,6.7 0 1,0 -13.4,0M551.4,137.8a6.7,6.7 0 1,0 13.4,0a6.7,6.7 0 1,0 -13.4,0M580.1,137.8a6.7,6.7 0 1,0 13.4,0a6.7,6.7 0 1,0 -13.4,0M608.8,137.8a6.7,6.7 0 1,0 13.4,0a6.7,6.7 0 1,0 -13.4,0M637.5,137.8a6.7,6.7 0 1,0 13.4,0a6.7,6.7 0 1,0 -13.4,0M666.2,137.8a6.7,6.7 0 1,0 13.4,0a6.7,6.7 0 1,0 -13.4,0M694.9,137.8a6.7,6.7 0 1,0 13.4,0a6.7,6.7 0 1,0 -13.4,0M723.6,137.8a6.7,6.7 0 1,0 13.4,0a6.7,6.7 0 1,0 -13.4,0M752.3,137.8a6.7,6.7 0 1,0 13.4,0a6.7,6.7 0 1,0 -13.4,0M781.0,137.8a6.7,6.7 0 1,0 13.4,0a6.7,6.7 0 1,0 -13.4,0M809.7,137.8a6.7,6.7 0 1,0 13.4,0a6.7,6.7 0 1,0 -13.4,0M838.4,137.8a6.7,6.7 0 1,0 13.4,0a6.7,6.7 0 1,0 -13.4,0M867.1,137.8a6.7,6.7 0 1,0 13.4,0a6.7,6.7 0 1,0 -13.4,0M895.8,137.8a6.7,6.7 0 1,0 13.4,0a6.7,6.7 0 1,0 -13.4,0M924.5,137.8a6.7,6.7 0 1,0 13.4,0a6.7,6.7 0 1,0 -13.4,0M953.2,137.8a6.7,6.7 0 1,0 13.4,0a6.7,6.7 0 1,0 -13.4,0M981.9,137.8a6.7,6.7 0 1,0 13.4,0a6.7,6.7 0 1,0 -13.4,0M1010.6,137.8a6.7,6.7 0 1,0 13.4,0a6.7,6.7 0 1,0 -13.4,0M1039.3,137.8a6.7,6.7 0 1,0 13.4,0a6.7,6.7 0 1,0 -13.4,0M1068.0,137.8a6.7,6.7 0 1,0 13.4,0a6.7,6.7 0 1,0 -13.4,0M1096.7,137.8a6.7,6.7 0 1,0 13.4,0a6.7,6.7 0 1,0 -13.4,0M1125.4,137.8a6.7,6.7 0 1,0 13.4,0a6.7,6.7 0 1,0 -13.4,0M1154.1,137.8a6.7,6.7 0 1,0 13.4,0a6.7,6.7 0 1,0 -13.4,0M1182.8,137.8a6.7,6.7 0 1,0 13.4,0a6.7,6.7 0 1,0 -13.4,0M1211.5,137.8a6.7,6.7 0 1,0 13.4,0a6.7,6.7 0 1,0 -13.4,0"/><path fill="#eeb890" fill-opacity="0.43" d="M-36.2,152.2a6.0,6.0 0 1,0 12.0,0a6.0,6.0 0 1,0 -12.0,0M-7.6,152.2a6.0,6.0 0 1,0 12.0,0a6.0,6.0 0 1,0 -12.0,0M21.1,152.2a6.0,6.0 0 1,0 12.0,0a6.0,6.0 0 1,0 -12.0,0M49.8,152.2a6.0,6.0 0 1,0 12.0,0a6.0,6.0 0 1,0 -12.0,0M78.5,152.2a6.0,6.0 0 1,0 12.0,0a6.0,6.0 0 1,0 -12.0,0M107.2,152.2a6.0,6.0 0 1,0 12.0,0a6.0,6.0 0 1,0 -12.0,0M135.9,152.2a6.0,6.0 0 1,0 12.0,0a6.0,6.0 0 1,0 -12.0,0M164.6,152.2a6.0,6.0 0 1,0 12.0,0a6.0,6.0 0 1,0 -12.0,0M193.3,152.2a6.0,6.0 0 1,0 12.0,0a6.0,6.0 0 1,0 -12.0,0M222.0,152.2a6.0,6.0 0 1,0 12.0,0a6.0,6.0 0 1,0 -12.0,0M250.7,152.2a6.0,6.0 0 1,0 12.0,0a6.0,6.0 0 1,0 -12.0,0M279.4,152.2a6.0,6.0 0 1,0 12.0,0a6.0,6.0 0 1,0 -12.0,0M308.1,152.2a6.0,6.0 0 1,0 12.0,0a6.0,6.0 0 1,0 -12.0,0M336.8,152.2a6.0,6.0 0 1,0 12.0,0a6.0,6.0 0 1,0 -12.0,0M365.5,152.2a6.0,6.0 0 1,0 12.0,0a6.0,6.0 0 1,0 -12.0,0M394.2,152.2a6.0,6.0 0 1,0 12.0,0a6.0,6.0 0 1,0 -12.0,0M422.9,152.2a6.0,6.0 0 1,0 12.0,0a6.0,6.0 0 1,0 -12.0,0M451.6,152.2a6.0,6.0 0 1,0 12.0,0a6.0,6.0 0 1,0 -12.0,0M480.3,152.2a6.0,6.0 0 1,0 12.0,0a6.0,6.0 0 1,0 -12.0,0M509.0,152.2a6.0,6.0 0 1,0 12.0,0a6.0,6.0 0 1,0 -12.0,0M537.7,152.2a6.0,6.0 0 1,0 12.0,0a6.0,6.0 0 1,0 -12.0,0M566.4,152.2a6.0,6.0 0 1,0 12.0,0a6.0,6.0 0 1,0 -12.0,0M595.1,152.2a6.0,6.0 0 1,0 12.0,0a6.0,6.0 0 1,0 -12.0,0M623.9,152.2a6.0,6.0 0 1,0 12.0,0a6.0,6.0 0 1,0 -12.0,0M652.6,152.2a6.0,6.0 0 1,0 12.0,0a6.0,6.0 0 1,0 -12.0,0M681.3,152.2a6.0,6.0 0 1,0 12.0,0a6.0,6.0 0 1,0 -12.0,0M710.0,152.2a6.0,6.0 0 1,0 12.0,0a6.0,6.0 0 1,0 -12.0,0M738.7,152.2a6.0,6.0 0 1,0 12.0,0a6.0,6.0 0 1,0 -12.0,0M767.4,152.2a6.0,6.0 0 1,0 12.0,0a6.0,6.0 0 1,0 -12.0,0M796.1,152.2a6.0,6.0 0 1,0 12.0,0a6.0,6.0 0 1,0 -12.0,0M824.8,152.2a6.0,6.0 0 1,0 12.0,0a6.0,6.0 0 1,0 -12.0,0M853.5,152.2a6.0,6.0 0 1,0 12.0,0a6.0,6.0 0 1,0 -12.0,0M882.2,152.2a6.0,6.0 0 1,0 12.0,0a6.0,6.0 0 1,0 -12.0,0M910.9,152.2a6.0,6.0 0 1,0 12.0,0a6.0,6.0 0 1,0 -12.0,0M939.6,152.2a6.0,6.0 0 1,0 12.0,0a6.0,6.0 0 1,0 -12.0,0M968.3,152.2a6.0,6.0 0 1,0 12.0,0a6.0,6.0 0 1,0 -12.0,0M997.0,152.2a6.0,6.0 0 1,0 12.0,0a6.0,6.0 0 1,0 -12.0,0M1025.7,152.2a6.0,6.0 0 1,0 12.0,0a6.0,6.0 0 1,0 -12.0,0M1054.4,152.2a6.0,6.0 0 1,0 12.0,0a6.0,6.0 0 1,0 -12.0,0M1083.1,152.2a6.0,6.0 0 1,0 12.0,0a6.0,6.0 0 1,0 -12.0,0M1111.8,152.2a6.0,6.0 0 1,0 12.0,0a6.0,6.0 0 1,0 -12.0,0M1140.5,152.2a6.0,6.0 0 1,0 12.0,0a6.0,6.0 0 1,0 -12.0,0M1169.2,152.2a6.0,6.0 0 1,0 12.0,0a6.0,6.0 0 1,0 -12.0,0M1197.9,152.2a6.0,6.0 0 1,0 12.0,0a6.0,6.0 0 1,0 -12.0,0"/><path fill="#eeb890" fill-opacity="0.34" d="M-49.8,166.6a5.2,5.2 0 1,0 10.4,0a5.2,5.2 0 1,0 -10.4,0M-21.1,166.6a5.2,5.2 0 1,0 10.4,0a5.2,5.2 0 1,0 -10.4,0M7.6,166.6a5.2,5.2 0 1,0 10.4,0a5.2,5.2 0 1,0 -10.4,0M36.3,166.6a5.2,5.2 0 1,0 10.4,0a5.2,5.2 0 1,0 -10.4,0M65.0,166.6a5.2,5.2 0 1,0 10.4,0a5.2,5.2 0 1,0 -10.4,0M93.7,166.6a5.2,5.2 0 1,0 10.4,0a5.2,5.2 0 1,0 -10.4,0M122.4,166.6a5.2,5.2 0 1,0 10.4,0a5.2,5.2 0 1,0 -10.4,0M151.1,166.6a5.2,5.2 0 1,0 10.4,0a5.2,5.2 0 1,0 -10.4,0M179.8,166.6a5.2,5.2 0 1,0 10.4,0a5.2,5.2 0 1,0 -10.4,0M208.5,166.6a5.2,5.2 0 1,0 10.4,0a5.2,5.2 0 1,0 -10.4,0M237.2,166.6a5.2,5.2 0 1,0 10.4,0a5.2,5.2 0 1,0 -10.4,0M265.9,166.6a5.2,5.2 0 1,0 10.4,0a5.2,5.2 0 1,0 -10.4,0M294.6,166.6a5.2,5.2 0 1,0 10.4,0a5.2,5.2 0 1,0 -10.4,0M323.3,166.6a5.2,5.2 0 1,0 10.4,0a5.2,5.2 0 1,0 -10.4,0M352.0,166.6a5.2,5.2 0 1,0 10.4,0a5.2,5.2 0 1,0 -10.4,0M380.7,166.6a5.2,5.2 0 1,0 10.4,0a5.2,5.2 0 1,0 -10.4,0M409.4,166.6a5.2,5.2 0 1,0 10.4,0a5.2,5.2 0 1,0 -10.4,0M438.1,166.6a5.2,5.2 0 1,0 10.4,0a5.2,5.2 0 1,0 -10.4,0M466.8,166.6a5.2,5.2 0 1,0 10.4,0a5.2,5.2 0 1,0 -10.4,0M495.5,166.6a5.2,5.2 0 1,0 10.4,0a5.2,5.2 0 1,0 -10.4,0M524.2,166.6a5.2,5.2 0 1,0 10.4,0a5.2,5.2 0 1,0 -10.4,0M552.9,166.6a5.2,5.2 0 1,0 10.4,0a5.2,5.2 0 1,0 -10.4,0M581.6,166.6a5.2,5.2 0 1,0 10.4,0a5.2,5.2 0 1,0 -10.4,0M610.3,166.6a5.2,5.2 0 1,0 10.4,0a5.2,5.2 0 1,0 -10.4,0M639.0,166.6a5.2,5.2 0 1,0 10.4,0a5.2,5.2 0 1,0 -10.4,0M667.7,166.6a5.2,5.2 0 1,0 10.4,0a5.2,5.2 0 1,0 -10.4,0M696.4,166.6a5.2,5.2 0 1,0 10.4,0a5.2,5.2 0 1,0 -10.4,0M725.1,166.6a5.2,5.2 0 1,0 10.4,0a5.2,5.2 0 1,0 -10.4,0M753.8,166.6a5.2,5.2 0 1,0 10.4,0a5.2,5.2 0 1,0 -10.4,0M782.5,166.6a5.2,5.2 0 1,0 10.4,0a5.2,5.2 0 1,0 -10.4,0M811.2,166.6a5.2,5.2 0 1,0 10.4,0a5.2,5.2 0 1,0 -10.4,0M839.9,166.6a5.2,5.2 0 1,0 10.4,0a5.2,5.2 0 1,0 -10.4,0M868.6,166.6a5.2,5.2 0 1,0 10.4,0a5.2,5.2 0 1,0 -10.4,0M897.3,166.6a5.2,5.2 0 1,0 10.4,0a5.2,5.2 0 1,0 -10.4,0M926.0,166.6a5.2,5.2 0 1,0 10.4,0a5.2,5.2 0 1,0 -10.4,0M954.7,166.6a5.2,5.2 0 1,0 10.4,0a5.2,5.2 0 1,0 -10.4,0M983.4,166.6a5.2,5.2 0 1,0 10.4,0a5.2,5.2 0 1,0 -10.4,0M1012.1,166.6a5.2,5.2 0 1,0 10.4,0a5.2,5.2 0 1,0 -10.4,0M1040.8,166.6a5.2,5.2 0 1,0 10.4,0a5.2,5.2 0 1,0 -10.4,0M1069.5,166.6a5.2,5.2 0 1,0 10.4,0a5.2,5.2 0 1,0 -10.4,0M1098.2,166.6a5.2,5.2 0 1,0 10.4,0a5.2,5.2 0 1,0 -10.4,0M1126.9,166.6a5.2,5.2 0 1,0 10.4,0a5.2,5.2 0 1,0 -10.4,0M1155.6,166.6a5.2,5.2 0 1,0 10.4,0a5.2,5.2 0 1,0 -10.4,0M1184.3,166.6a5.2,5.2 0 1,0 10.4,0a5.2,5.2 0 1,0 -10.4,0M1213.0,166.6a5.2,5.2 0 1,0 10.4,0a5.2,5.2 0 1,0 -10.4,0"/><path fill="#eeb890" fill-opacity="0.25" d="M-34.6,181.0a4.4,4.4 0 1,0 8.8,0a4.4,4.4 0 1,0 -8.8,0M-6.0,181.0a4.4,4.4 0 1,0 8.8,0a4.4,4.4 0 1,0 -8.8,0M22.8,181.0a4.4,4.4 0 1,0 8.8,0a4.4,4.4 0 1,0 -8.8,0M51.4,181.0a4.4,4.4 0 1,0 8.8,0a4.4,4.4 0 1,0 -8.8,0M80.1,181.0a4.4,4.4 0 1,0 8.8,0a4.4,4.4 0 1,0 -8.8,0M108.8,181.0a4.4,4.4 0 1,0 8.8,0a4.4,4.4 0 1,0 -8.8,0M137.5,181.0a4.4,4.4 0 1,0 8.8,0a4.4,4.4 0 1,0 -8.8,0M166.2,181.0a4.4,4.4 0 1,0 8.8,0a4.4,4.4 0 1,0 -8.8,0M194.9,181.0a4.4,4.4 0 1,0 8.8,0a4.4,4.4 0 1,0 -8.8,0M223.6,181.0a4.4,4.4 0 1,0 8.8,0a4.4,4.4 0 1,0 -8.8,0M252.3,181.0a4.4,4.4 0 1,0 8.8,0a4.4,4.4 0 1,0 -8.8,0M281.0,181.0a4.4,4.4 0 1,0 8.8,0a4.4,4.4 0 1,0 -8.8,0M309.7,181.0a4.4,4.4 0 1,0 8.8,0a4.4,4.4 0 1,0 -8.8,0M338.4,181.0a4.4,4.4 0 1,0 8.8,0a4.4,4.4 0 1,0 -8.8,0M367.1,181.0a4.4,4.4 0 1,0 8.8,0a4.4,4.4 0 1,0 -8.8,0M395.8,181.0a4.4,4.4 0 1,0 8.8,0a4.4,4.4 0 1,0 -8.8,0M424.5,181.0a4.4,4.4 0 1,0 8.8,0a4.4,4.4 0 1,0 -8.8,0M453.2,181.0a4.4,4.4 0 1,0 8.8,0a4.4,4.4 0 1,0 -8.8,0M481.9,181.0a4.4,4.4 0 1,0 8.8,0a4.4,4.4 0 1,0 -8.8,0M510.6,181.0a4.4,4.4 0 1,0 8.8,0a4.4,4.4 0 1,0 -8.8,0M539.3,181.0a4.4,4.4 0 1,0 8.8,0a4.4,4.4 0 1,0 -8.8,0M568.0,181.0a4.4,4.4 0 1,0 8.8,0a4.4,4.4 0 1,0 -8.8,0M596.8,181.0a4.4,4.4 0 1,0 8.8,0a4.4,4.4 0 1,0 -8.8,0M625.5,181.0a4.4,4.4 0 1,0 8.8,0a4.4,4.4 0 1,0 -8.8,0M654.2,181.0a4.4,4.4 0 1,0 8.8,0a4.4,4.4 0 1,0 -8.8,0M682.9,181.0a4.4,4.4 0 1,0 8.8,0a4.4,4.4 0 1,0 -8.8,0M711.6,181.0a4.4,4.4 0 1,0 8.8,0a4.4,4.4 0 1,0 -8.8,0M740.3,181.0a4.4,4.4 0 1,0 8.8,0a4.4,4.4 0 1,0 -8.8,0M769.0,181.0a4.4,4.4 0 1,0 8.8,0a4.4,4.4 0 1,0 -8.8,0M797.7,181.0a4.4,4.4 0 1,0 8.8,0a4.4,4.4 0 1,0 -8.8,0M826.4,181.0a4.4,4.4 0 1,0 8.8,0a4.4,4.4 0 1,0 -8.8,0M855.1,181.0a4.4,4.4 0 1,0 8.8,0a4.4,4.4 0 1,0 -8.8,0M883.8,181.0a4.4,4.4 0 1,0 8.8,0a4.4,4.4 0 1,0 -8.8,0M912.5,181.0a4.4,4.4 0 1,0 8.8,0a4.4,4.4 0 1,0 -8.8,0M941.2,181.0a4.4,4.4 0 1,0 8.8,0a4.4,4.4 0 1,0 -8.8,0M969.9,181.0a4.4,4.4 0 1,0 8.8,0a4.4,4.4 0 1,0 -8.8,0M998.6,181.0a4.4,4.4 0 1,0 8.8,0a4.4,4.4 0 1,0 -8.8,0M1027.3,181.0a4.4,4.4 0 1,0 8.8,0a4.4,4.4 0 1,0 -8.8,0M1056.0,181.0a4.4,4.4 0 1,0 8.8,0a4.4,4.4 0 1,0 -8.8,0M1084.7,181.0a4.4,4.4 0 1,0 8.8,0a4.4,4.4 0 1,0 -8.8,0M1113.4,181.0a4.4,4.4 0 1,0 8.8,0a4.4,4.4 0 1,0 -8.8,0M1142.1,181.0a4.4,4.4 0 1,0 8.8,0a4.4,4.4 0 1,0 -8.8,0M1170.8,181.0a4.4,4.4 0 1,0 8.8,0a4.4,4.4 0 1,0 -8.8,0M1199.5,181.0a4.4,4.4 0 1,0 8.8,0a4.4,4.4 0 1,0 -8.8,0"/><path fill="#eeb890" fill-opacity="0.18" d="M-48.1,195.4a3.5,3.5 0 1,0 7.0,0a3.5,3.5 0 1,0 -7.0,0M-19.4,195.4a3.5,3.5 0 1,0 7.0,0a3.5,3.5 0 1,0 -7.0,0M9.3,195.4a3.5,3.5 0 1,0 7.0,0a3.5,3.5 0 1,0 -7.0,0M38.0,195.4a3.5,3.5 0 1,0 7.0,0a3.5,3.5 0 1,0 -7.0,0M66.7,195.4a3.5,3.5 0 1,0 7.0,0a3.5,3.5 0 1,0 -7.0,0M95.4,195.4a3.5,3.5 0 1,0 7.0,0a3.5,3.5 0 1,0 -7.0,0M124.1,195.4a3.5,3.5 0 1,0 7.0,0a3.5,3.5 0 1,0 -7.0,0M152.8,195.4a3.5,3.5 0 1,0 7.0,0a3.5,3.5 0 1,0 -7.0,0M181.5,195.4a3.5,3.5 0 1,0 7.0,0a3.5,3.5 0 1,0 -7.0,0M210.2,195.4a3.5,3.5 0 1,0 7.0,0a3.5,3.5 0 1,0 -7.0,0M238.9,195.4a3.5,3.5 0 1,0 7.0,0a3.5,3.5 0 1,0 -7.0,0M267.6,195.4a3.5,3.5 0 1,0 7.0,0a3.5,3.5 0 1,0 -7.0,0M296.3,195.4a3.5,3.5 0 1,0 7.0,0a3.5,3.5 0 1,0 -7.0,0M325.0,195.4a3.5,3.5 0 1,0 7.0,0a3.5,3.5 0 1,0 -7.0,0M353.7,195.4a3.5,3.5 0 1,0 7.0,0a3.5,3.5 0 1,0 -7.0,0M382.4,195.4a3.5,3.5 0 1,0 7.0,0a3.5,3.5 0 1,0 -7.0,0M411.1,195.4a3.5,3.5 0 1,0 7.0,0a3.5,3.5 0 1,0 -7.0,0M439.8,195.4a3.5,3.5 0 1,0 7.0,0a3.5,3.5 0 1,0 -7.0,0M468.5,195.4a3.5,3.5 0 1,0 7.0,0a3.5,3.5 0 1,0 -7.0,0M497.2,195.4a3.5,3.5 0 1,0 7.0,0a3.5,3.5 0 1,0 -7.0,0M525.9,195.4a3.5,3.5 0 1,0 7.0,0a3.5,3.5 0 1,0 -7.0,0M554.6,195.4a3.5,3.5 0 1,0 7.0,0a3.5,3.5 0 1,0 -7.0,0M583.3,195.4a3.5,3.5 0 1,0 7.0,0a3.5,3.5 0 1,0 -7.0,0M612.0,195.4a3.5,3.5 0 1,0 7.0,0a3.5,3.5 0 1,0 -7.0,0M640.7,195.4a3.5,3.5 0 1,0 7.0,0a3.5,3.5 0 1,0 -7.0,0M669.4,195.4a3.5,3.5 0 1,0 7.0,0a3.5,3.5 0 1,0 -7.0,0M698.1,195.4a3.5,3.5 0 1,0 7.0,0a3.5,3.5 0 1,0 -7.0,0M726.8,195.4a3.5,3.5 0 1,0 7.0,0a3.5,3.5 0 1,0 -7.0,0M755.5,195.4a3.5,3.5 0 1,0 7.0,0a3.5,3.5 0 1,0 -7.0,0M784.2,195.4a3.5,3.5 0 1,0 7.0,0a3.5,3.5 0 1,0 -7.0,0M812.9,195.4a3.5,3.5 0 1,0 7.0,0a3.5,3.5 0 1,0 -7.0,0M841.6,195.4a3.5,3.5 0 1,0 7.0,0a3.5,3.5 0 1,0 -7.0,0M870.3,195.4a3.5,3.5 0 1,0 7.0,0a3.5,3.5 0 1,0 -7.0,0M899.0,195.4a3.5,3.5 0 1,0 7.0,0a3.5,3.5 0 1,0 -7.0,0M927.7,195.4a3.5,3.5 0 1,0 7.0,0a3.5,3.5 0 1,0 -7.0,0M956.4,195.4a3.5,3.5 0 1,0 7.0,0a3.5,3.5 0 1,0 -7.0,0M985.1,195.4a3.5,3.5 0 1,0 7.0,0a3.5,3.5 0 1,0 -7.0,0M1013.8,195.4a3.5,3.5 0 1,0 7.0,0a3.5,3.5 0 1,0 -7.0,0M1042.5,195.4a3.5,3.5 0 1,0 7.0,0a3.5,3.5 0 1,0 -7.0,0M1071.2,195.4a3.5,3.5 0 1,0 7.0,0a3.5,3.5 0 1,0 -7.0,0M1099.9,195.4a3.5,3.5 0 1,0 7.0,0a3.5,3.5 0 1,0 -7.0,0M1128.6,195.4a3.5,3.5 0 1,0 7.0,0a3.5,3.5 0 1,0 -7.0,0M1157.3,195.4a3.5,3.5 0 1,0 7.0,0a3.5,3.5 0 1,0 -7.0,0M1186.0,195.4a3.5,3.5 0 1,0 7.0,0a3.5,3.5 0 1,0 -7.0,0M1214.7,195.4a3.5,3.5 0 1,0 7.0,0a3.5,3.5 0 1,0 -7.0,0"/><path fill="#eeb890" fill-opacity="0.10" d="M-32.9,209.8a2.6,2.6 0 1,0 5.2,0a2.6,2.6 0 1,0 -5.2,0M-4.2,209.8a2.6,2.6 0 1,0 5.2,0a2.6,2.6 0 1,0 -5.2,0M24.5,209.8a2.6,2.6 0 1,0 5.2,0a2.6,2.6 0 1,0 -5.2,0M53.2,209.8a2.6,2.6 0 1,0 5.2,0a2.6,2.6 0 1,0 -5.2,0M82.0,209.8a2.6,2.6 0 1,0 5.2,0a2.6,2.6 0 1,0 -5.2,0M110.7,209.8a2.6,2.6 0 1,0 5.2,0a2.6,2.6 0 1,0 -5.2,0M139.3,209.8a2.6,2.6 0 1,0 5.2,0a2.6,2.6 0 1,0 -5.2,0M168.0,209.8a2.6,2.6 0 1,0 5.2,0a2.6,2.6 0 1,0 -5.2,0M196.7,209.8a2.6,2.6 0 1,0 5.2,0a2.6,2.6 0 1,0 -5.2,0M225.4,209.8a2.6,2.6 0 1,0 5.2,0a2.6,2.6 0 1,0 -5.2,0M254.1,209.8a2.6,2.6 0 1,0 5.2,0a2.6,2.6 0 1,0 -5.2,0M282.8,209.8a2.6,2.6 0 1,0 5.2,0a2.6,2.6 0 1,0 -5.2,0M311.5,209.8a2.6,2.6 0 1,0 5.2,0a2.6,2.6 0 1,0 -5.2,0M340.2,209.8a2.6,2.6 0 1,0 5.2,0a2.6,2.6 0 1,0 -5.2,0M368.9,209.8a2.6,2.6 0 1,0 5.2,0a2.6,2.6 0 1,0 -5.2,0M397.6,209.8a2.6,2.6 0 1,0 5.2,0a2.6,2.6 0 1,0 -5.2,0M426.3,209.8a2.6,2.6 0 1,0 5.2,0a2.6,2.6 0 1,0 -5.2,0M455.0,209.8a2.6,2.6 0 1,0 5.2,0a2.6,2.6 0 1,0 -5.2,0M483.7,209.8a2.6,2.6 0 1,0 5.2,0a2.6,2.6 0 1,0 -5.2,0M512.4,209.8a2.6,2.6 0 1,0 5.2,0a2.6,2.6 0 1,0 -5.2,0M541.1,209.8a2.6,2.6 0 1,0 5.2,0a2.6,2.6 0 1,0 -5.2,0M569.8,209.8a2.6,2.6 0 1,0 5.2,0a2.6,2.6 0 1,0 -5.2,0M598.5,209.8a2.6,2.6 0 1,0 5.2,0a2.6,2.6 0 1,0 -5.2,0M627.2,209.8a2.6,2.6 0 1,0 5.2,0a2.6,2.6 0 1,0 -5.2,0M656.0,209.8a2.6,2.6 0 1,0 5.2,0a2.6,2.6 0 1,0 -5.2,0M684.7,209.8a2.6,2.6 0 1,0 5.2,0a2.6,2.6 0 1,0 -5.2,0M713.4,209.8a2.6,2.6 0 1,0 5.2,0a2.6,2.6 0 1,0 -5.2,0M742.1,209.8a2.6,2.6 0 1,0 5.2,0a2.6,2.6 0 1,0 -5.2,0M770.8,209.8a2.6,2.6 0 1,0 5.2,0a2.6,2.6 0 1,0 -5.2,0M799.5,209.8a2.6,2.6 0 1,0 5.2,0a2.6,2.6 0 1,0 -5.2,0M828.2,209.8a2.6,2.6 0 1,0 5.2,0a2.6,2.6 0 1,0 -5.2,0M856.9,209.8a2.6,2.6 0 1,0 5.2,0a2.6,2.6 0 1,0 -5.2,0M885.6,209.8a2.6,2.6 0 1,0 5.2,0a2.6,2.6 0 1,0 -5.2,0M914.3,209.8a2.6,2.6 0 1,0 5.2,0a2.6,2.6 0 1,0 -5.2,0M943.0,209.8a2.6,2.6 0 1,0 5.2,0a2.6,2.6 0 1,0 -5.2,0M971.7,209.8a2.6,2.6 0 1,0 5.2,0a2.6,2.6 0 1,0 -5.2,0M1000.4,209.8a2.6,2.6 0 1,0 5.2,0a2.6,2.6 0 1,0 -5.2,0M1029.1,209.8a2.6,2.6 0 1,0 5.2,0a2.6,2.6 0 1,0 -5.2,0M1057.8,209.8a2.6,2.6 0 1,0 5.2,0a2.6,2.6 0 1,0 -5.2,0M1086.5,209.8a2.6,2.6 0 1,0 5.2,0a2.6,2.6 0 1,0 -5.2,0M1115.2,209.8a2.6,2.6 0 1,0 5.2,0a2.6,2.6 0 1,0 -5.2,0M1143.9,209.8a2.6,2.6 0 1,0 5.2,0a2.6,2.6 0 1,0 -5.2,0M1172.6,209.8a2.6,2.6 0 1,0 5.2,0a2.6,2.6 0 1,0 -5.2,0M1201.3,209.8a2.6,2.6 0 1,0 5.2,0a2.6,2.6 0 1,0 -5.2,0"/></g>
<rect y="38" width="1200" height="17" fill="#eeb890"/>
<path fill="#f4d3c2" fill-opacity="0.55" d="M25.9,52.2a1.2,1.2 0 1,0 2.4,0a1.2,1.2 0 1,0 -2.4,0M54.6,52.2a1.2,1.2 0 1,0 2.4,0a1.2,1.2 0 1,0 -2.4,0M83.3,52.2a1.2,1.2 0 1,0 2.4,0a1.2,1.2 0 1,0 -2.4,0M112.0,52.2a1.2,1.2 0 1,0 2.4,0a1.2,1.2 0 1,0 -2.4,0M140.8,52.2a1.2,1.2 0 1,0 2.4,0a1.2,1.2 0 1,0 -2.4,0M169.4,52.2a1.2,1.2 0 1,0 2.4,0a1.2,1.2 0 1,0 -2.4,0M198.1,52.2a1.2,1.2 0 1,0 2.4,0a1.2,1.2 0 1,0 -2.4,0M226.8,52.2a1.2,1.2 0 1,0 2.4,0a1.2,1.2 0 1,0 -2.4,0M255.5,52.2a1.2,1.2 0 1,0 2.4,0a1.2,1.2 0 1,0 -2.4,0M284.2,52.2a1.2,1.2 0 1,0 2.4,0a1.2,1.2 0 1,0 -2.4,0M312.9,52.2a1.2,1.2 0 1,0 2.4,0a1.2,1.2 0 1,0 -2.4,0M341.6,52.2a1.2,1.2 0 1,0 2.4,0a1.2,1.2 0 1,0 -2.4,0M370.3,52.2a1.2,1.2 0 1,0 2.4,0a1.2,1.2 0 1,0 -2.4,0M399.0,52.2a1.2,1.2 0 1,0 2.4,0a1.2,1.2 0 1,0 -2.4,0M427.7,52.2a1.2,1.2 0 1,0 2.4,0a1.2,1.2 0 1,0 -2.4,0M456.4,52.2a1.2,1.2 0 1,0 2.4,0a1.2,1.2 0 1,0 -2.4,0M485.1,52.2a1.2,1.2 0 1,0 2.4,0a1.2,1.2 0 1,0 -2.4,0M513.8,52.2a1.2,1.2 0 1,0 2.4,0a1.2,1.2 0 1,0 -2.4,0M542.5,52.2a1.2,1.2 0 1,0 2.4,0a1.2,1.2 0 1,0 -2.4,0M571.2,52.2a1.2,1.2 0 1,0 2.4,0a1.2,1.2 0 1,0 -2.4,0M599.9,52.2a1.2,1.2 0 1,0 2.4,0a1.2,1.2 0 1,0 -2.4,0M628.6,52.2a1.2,1.2 0 1,0 2.4,0a1.2,1.2 0 1,0 -2.4,0M657.4,52.2a1.2,1.2 0 1,0 2.4,0a1.2,1.2 0 1,0 -2.4,0M686.1,52.2a1.2,1.2 0 1,0 2.4,0a1.2,1.2 0 1,0 -2.4,0M714.8,52.2a1.2,1.2 0 1,0 2.4,0a1.2,1.2 0 1,0 -2.4,0M743.5,52.2a1.2,1.2 0 1,0 2.4,0a1.2,1.2 0 1,0 -2.4,0M772.2,52.2a1.2,1.2 0 1,0 2.4,0a1.2,1.2 0 1,0 -2.4,0M800.9,52.2a1.2,1.2 0 1,0 2.4,0a1.2,1.2 0 1,0 -2.4,0M829.6,52.2a1.2,1.2 0 1,0 2.4,0a1.2,1.2 0 1,0 -2.4,0M858.3,52.2a1.2,1.2 0 1,0 2.4,0a1.2,1.2 0 1,0 -2.4,0M887.0,52.2a1.2,1.2 0 1,0 2.4,0a1.2,1.2 0 1,0 -2.4,0M915.7,52.2a1.2,1.2 0 1,0 2.4,0a1.2,1.2 0 1,0 -2.4,0M944.4,52.2a1.2,1.2 0 1,0 2.4,0a1.2,1.2 0 1,0 -2.4,0M973.1,52.2a1.2,1.2 0 1,0 2.4,0a1.2,1.2 0 1,0 -2.4,0M1001.8,52.2a1.2,1.2 0 1,0 2.4,0a1.2,1.2 0 1,0 -2.4,0M1030.5,52.2a1.2,1.2 0 1,0 2.4,0a1.2,1.2 0 1,0 -2.4,0M1059.2,52.2a1.2,1.2 0 1,0 2.4,0a1.2,1.2 0 1,0 -2.4,0M1087.9,52.2a1.2,1.2 0 1,0 2.4,0a1.2,1.2 0 1,0 -2.4,0M1116.6,52.2a1.2,1.2 0 1,0 2.4,0a1.2,1.2 0 1,0 -2.4,0M1145.3,52.2a1.2,1.2 0 1,0 2.4,0a1.2,1.2 0 1,0 -2.4,0M1174.0,52.2a1.2,1.2 0 1,0 2.4,0a1.2,1.2 0 1,0 -2.4,0M1202.7,52.2a1.2,1.2 0 1,0 2.4,0a1.2,1.2 0 1,0 -2.4,0"/>
<path fill="#f6d8c6" fill-opacity="0.6" d="M11.4,9.6a1.4,1.4 0 1,0 2.8,0a1.4,1.4 0 1,0 -2.8,0M40.1,9.6a1.4,1.4 0 1,0 2.8,0a1.4,1.4 0 1,0 -2.8,0M68.8,9.6a1.4,1.4 0 1,0 2.8,0a1.4,1.4 0 1,0 -2.8,0M97.5,9.6a1.4,1.4 0 1,0 2.8,0a1.4,1.4 0 1,0 -2.8,0M126.2,9.6a1.4,1.4 0 1,0 2.8,0a1.4,1.4 0 1,0 -2.8,0M154.9,9.6a1.4,1.4 0 1,0 2.8,0a1.4,1.4 0 1,0 -2.8,0M183.6,9.6a1.4,1.4 0 1,0 2.8,0a1.4,1.4 0 1,0 -2.8,0M212.3,9.6a1.4,1.4 0 1,0 2.8,0a1.4,1.4 0 1,0 -2.8,0M241.0,9.6a1.4,1.4 0 1,0 2.8,0a1.4,1.4 0 1,0 -2.8,0M269.7,9.6a1.4,1.4 0 1,0 2.8,0a1.4,1.4 0 1,0 -2.8,0M298.4,9.6a1.4,1.4 0 1,0 2.8,0a1.4,1.4 0 1,0 -2.8,0M327.1,9.6a1.4,1.4 0 1,0 2.8,0a1.4,1.4 0 1,0 -2.8,0M355.8,9.6a1.4,1.4 0 1,0 2.8,0a1.4,1.4 0 1,0 -2.8,0M384.5,9.6a1.4,1.4 0 1,0 2.8,0a1.4,1.4 0 1,0 -2.8,0M413.2,9.6a1.4,1.4 0 1,0 2.8,0a1.4,1.4 0 1,0 -2.8,0M441.9,9.6a1.4,1.4 0 1,0 2.8,0a1.4,1.4 0 1,0 -2.8,0M470.6,9.6a1.4,1.4 0 1,0 2.8,0a1.4,1.4 0 1,0 -2.8,0M499.3,9.6a1.4,1.4 0 1,0 2.8,0a1.4,1.4 0 1,0 -2.8,0M528.0,9.6a1.4,1.4 0 1,0 2.8,0a1.4,1.4 0 1,0 -2.8,0M556.7,9.6a1.4,1.4 0 1,0 2.8,0a1.4,1.4 0 1,0 -2.8,0M585.4,9.6a1.4,1.4 0 1,0 2.8,0a1.4,1.4 0 1,0 -2.8,0M614.1,9.6a1.4,1.4 0 1,0 2.8,0a1.4,1.4 0 1,0 -2.8,0M642.8,9.6a1.4,1.4 0 1,0 2.8,0a1.4,1.4 0 1,0 -2.8,0M671.5,9.6a1.4,1.4 0 1,0 2.8,0a1.4,1.4 0 1,0 -2.8,0M700.2,9.6a1.4,1.4 0 1,0 2.8,0a1.4,1.4 0 1,0 -2.8,0M728.9,9.6a1.4,1.4 0 1,0 2.8,0a1.4,1.4 0 1,0 -2.8,0M757.6,9.6a1.4,1.4 0 1,0 2.8,0a1.4,1.4 0 1,0 -2.8,0M786.3,9.6a1.4,1.4 0 1,0 2.8,0a1.4,1.4 0 1,0 -2.8,0M815.0,9.6a1.4,1.4 0 1,0 2.8,0a1.4,1.4 0 1,0 -2.8,0M843.7,9.6a1.4,1.4 0 1,0 2.8,0a1.4,1.4 0 1,0 -2.8,0M872.4,9.6a1.4,1.4 0 1,0 2.8,0a1.4,1.4 0 1,0 -2.8,0M901.1,9.6a1.4,1.4 0 1,0 2.8,0a1.4,1.4 0 1,0 -2.8,0M929.8,9.6a1.4,1.4 0 1,0 2.8,0a1.4,1.4 0 1,0 -2.8,0M958.5,9.6a1.4,1.4 0 1,0 2.8,0a1.4,1.4 0 1,0 -2.8,0M987.2,9.6a1.4,1.4 0 1,0 2.8,0a1.4,1.4 0 1,0 -2.8,0M1015.9,9.6a1.4,1.4 0 1,0 2.8,0a1.4,1.4 0 1,0 -2.8,0M1044.6,9.6a1.4,1.4 0 1,0 2.8,0a1.4,1.4 0 1,0 -2.8,0M1073.3,9.6a1.4,1.4 0 1,0 2.8,0a1.4,1.4 0 1,0 -2.8,0M1102.0,9.6a1.4,1.4 0 1,0 2.8,0a1.4,1.4 0 1,0 -2.8,0M1130.7,9.6a1.4,1.4 0 1,0 2.8,0a1.4,1.4 0 1,0 -2.8,0M1159.4,9.6a1.4,1.4 0 1,0 2.8,0a1.4,1.4 0 1,0 -2.8,0M1188.1,9.6a1.4,1.4 0 1,0 2.8,0a1.4,1.4 0 1,0 -2.8,0M1216.8,9.6a1.4,1.4 0 1,0 2.8,0a1.4,1.4 0 1,0 -2.8,0"/>
<rect width="1200" height="2" fill="#fff" fill-opacity="0.22"/>
<rect width="4.5" height="635" fill="#fff" fill-opacity="0.25"/>
<use href="#bpaw" fill="#fff" fill-opacity="1.00" transform="translate(1170.5 79.3) rotate(9) scale(1.00)"/>
<use href="#bpaw" fill="#fff" fill-opacity="1.00" transform="translate(1185.8 180.5) rotate(30) scale(1.00)"/>
<use href="#bpaw" fill="#fff" fill-opacity="0.95" transform="translate(860.8 253.5) rotate(54) scale(0.97)"/>
<use href="#bpaw" fill="#fff" fill-opacity="0.90" transform="translate(952.5 316.5) rotate(0) scale(1.00)"/>
<use href="#bpaw" fill="#fff" fill-opacity="0.95" transform="translate(1056.3 286.0) rotate(50) scale(1.00)"/>
<use href="#bpaw" fill="#fff" fill-opacity="0.92" transform="translate(627.0 331.3) rotate(58) scale(0.77)"/>
<use href="#bpaw" fill="#fff" fill-opacity="0.95" transform="translate(764.3 290.6) rotate(58) scale(0.77)"/>
<use href="#bpaw" fill="#fff" fill-opacity="0.92" transform="translate(687.7 370.5) rotate(58) scale(0.77)"/>
<use href="#bpaw" fill="#fff" fill-opacity="0.95" transform="translate(767.0 361.7) rotate(58) scale(0.77)"/>
<use href="#bpaw" fill="#fff" fill-opacity="0.85" transform="translate(570.2 417.9) rotate(21) scale(1.00)"/>
<use href="#bpaw" fill="#fff" fill-opacity="0.85" transform="translate(569.6 515.5) rotate(38) scale(1.04)"/>
<use href="#bpaw" fill="#fff" fill-opacity="0.72" transform="translate(33.0 577.1) rotate(64) scale(0.74)"/>
<use href="#bpaw" fill="#fff" fill-opacity="0.68" transform="translate(83.5 622.6) rotate(64) scale(0.74)"/>
<use href="#bpaw" fill="#fff" fill-opacity="0.45" transform="translate(165.0 556.0) rotate(60) scale(0.75)"/>
<use href="#bpaw" fill="#fff" fill-opacity="0.55" transform="translate(262.1 535.7) rotate(58) scale(0.80)"/>
<use href="#bpaw" fill="#fff" fill-opacity="0.50" transform="translate(160.0 625.0) rotate(60) scale(0.75)"/>
<use href="#bpaw" fill="#fff" fill-opacity="0.65" transform="translate(324.6 593.1) rotate(58) scale(0.77)"/>
<use href="#bpaw" fill="#fff" fill-opacity="0.75" transform="translate(435.5 595.1) rotate(58) scale(0.92)"/>
<use href="#bpaw" fill="#fff" fill-opacity="0.60" transform="translate(408.5 513.0) rotate(58) scale(0.77)"/>
<rect x="87" y="120.5" width="451.2" height="387" fill="#fff"/>
<line x1="87" x2="528" y1="426.8" y2="426.8" stroke="#8e8e8e" stroke-width="1.7" stroke-dasharray="5.2 3.85"/>
<line x1="87" x2="528" y1="346.8" y2="346.8" stroke="#8e8e8e" stroke-width="1.7" stroke-dasharray="5.2 3.85"/>
<line x1="87" x2="528" y1="266.8" y2="266.8" stroke="#8e8e8e" stroke-width="1.7" stroke-dasharray="5.2 3.85"/>
<line x1="87" x2="528" y1="186.8" y2="186.8" stroke="#8e8e8e" stroke-width="1.7" stroke-dasharray="5.2 3.85"/>
<rect x="97.7" y="256.0" width="33.8" height="123.0" fill="#b06a4b"/>
<rect x="97.7" y="379.0" width="33.8" height="43.4" fill="#dda366"/>
<rect x="97.7" y="422.4" width="33.8" height="84.6" fill="#244b5f"/>
<rect x="154.2" y="237.6" width="33.8" height="131.9" fill="#b06a4b"/>
<rect x="154.2" y="369.5" width="33.8" height="45.3" fill="#dda366"/>
<rect x="154.2" y="414.8" width="33.8" height="92.2" fill="#244b5f"/>
<rect x="210.6" y="232.0" width="33.8" height="132.0" fill="#b06a4b"/>
<rect x="210.6" y="364.0" width="33.8" height="46.3" fill="#dda366"/>
<rect x="210.6" y="410.3" width="33.8" height="96.7" fill="#244b5f"/>
<rect x="267.1" y="222.0" width="33.8" height="133.1" fill="#b06a4b"/>
<rect x="267.1" y="355.1" width="33.8" height="48.9" fill="#dda366"/>
<rect x="267.1" y="404.0" width="33.8" height="103.0" fill="#244b5f"/>
<rect x="323.5" y="208.7" width="33.8" height="135.6" fill="#b06a4b"/>
<rect x="323.5" y="344.3" width="33.8" height="52.4" fill="#dda366"/>
<rect x="323.5" y="396.7" width="33.8" height="110.3" fill="#244b5f"/>
<rect x="379.9" y="202.6" width="33.8" height="136.2" fill="#b06a4b"/>
<rect x="379.9" y="338.8" width="33.8" height="53.9" fill="#dda366"/>
<rect x="379.9" y="392.7" width="33.8" height="114.3" fill="#244b5f"/>
<rect x="436.4" y="194.8" width="33.8" height="138.9" fill="#b06a4b"/>
<rect x="436.4" y="333.7" width="33.8" height="55.2" fill="#dda366"/>
<rect x="436.4" y="388.9" width="33.8" height="118.1" fill="#244b5f"/>
<rect x="492.9" y="188.5" width="33.8" height="141.5" fill="#b06a4b"/>
<rect x="492.9" y="330.0" width="33.8" height="55.9" fill="#dda366"/>
<rect x="492.9" y="385.9" width="33.8" height="121.1" fill="#244b5f"/>
<rect x="87" y="506" width="451.2" height="2.6" fill="#231815"/>
<line x1="526.5" x2="552" y1="206.9" y2="206.9" stroke="#4a4a4a" stroke-width="1.5"/>
<line x1="526.5" x2="552" y1="359.2" y2="359.2" stroke="#4a4a4a" stroke-width="1.5"/>
<line x1="526.5" x2="552" y1="475.4" y2="475.4" stroke="#4a4a4a" stroke-width="1.5"/>
<circle cx="78" cy="507.1" r="6.6" fill="#231815"/>
<circle cx="78" cy="426.2" r="6.6" fill="#231815"/>
<circle cx="78" cy="346.2" r="6.6" fill="#231815"/>
<circle cx="78" cy="266.2" r="6.6" fill="#231815"/>
<circle cx="78" cy="186.2" r="6.6" fill="#231815"/>
<rect x="141.9" y="132.4" width="324.6" height="46.7" rx="23.35" fill="#fff" stroke="#231815" stroke-width="2.8"/>
<rect x="837" y="121.7" width="309.6" height="106.7" fill="url(#box)"/>
<rect x="860" y="425" width="287" height="107" fill="url(#box)"/>
<line x1="853" x2="1143" y1="170.2" y2="170.2" stroke="#231815" stroke-width="1.3"/>
<line x1="877" x2="1143" y1="477.2" y2="477.2" stroke="#231815" stroke-width="1.3"/>
<rect x="1003.3" y="228" width="13.8" height="172" fill="#231815"/>
<path d="M983,397.3H1037.3L1010.2,424.5Z" fill="#231815"/>
<rect x="837.3" y="276.2" width="343.4" height="61.2" rx="30.6" fill="#231815"/>
<circle cx="759.3" cy="187.8" r="95.75" fill="#b06a4b"/>
<circle cx="759" cy="476.4" r="115.6" fill="#264b5e" stroke="#231815" stroke-width="5.2"/>
<g transform="translate(761.0 133.9) scale(0.6636)">
<use href="#bag"/>
<path fill="#e3c5a6" d="M-51.3,47.5H50.8L-51.3,153.5Z"/>
<circle cx="0" cy="83.7" r="31" fill="#b06a4b"/>
<use href="#paw" fill="#fff" transform="translate(0 83.6) scale(0.62)"/>
</g>
<g transform="translate(760.3 394.0) scale(1.0000)">
<use href="#bag"/>
<path fill="#a9b8c4" d="M-51.3,47.5H50.8L-51.3,153.5Z"/>
<circle cx="0" cy="83.7" r="31" fill="#264b5e"/>
<use href="#paw" fill="#fff" transform="translate(0 83.6) scale(0.62)"/>
</g>
<text x="103" y="52.5" font-size="39.5" font-weight="bold" fill="#231815" textLength="394" lengthAdjust="spacing">ペットにかける支出は</text>
<text x="163" y="97.5" font-size="39.5" font-weight="bold" fill="#231815" textLength="271" lengthAdjust="spacing">増え続けている</text>
<text x="713" y="52.5" font-size="39.5" font-weight="bold" fill="#231815" textLength="397" lengthAdjust="spacing">ペット関連の年間支出</text>
<text x="913" y="91.3" font-size="31" font-weight="500" fill="#231815" text-anchor="middle">（1世帯あたり）</text>
<text x="162" y="166.5" font-size="28" font-weight="500" fill="#231815" textLength="280" lengthAdjust="spacing">ペット関連市場の推移</text>
<text x="23.5" y="166" font-size="19.5" fill="#231815">兆円</text>
<text x="64.5" y="194.3" font-size="29" font-weight="bold" fill="#231815" text-anchor="end">2.0</text>
<text x="64.5" y="274.4" font-size="29" font-weight="bold" fill="#231815" text-anchor="end">1.5</text>
<text x="64.5" y="354.5" font-size="29" font-weight="bold" fill="#231815" text-anchor="end">1.0</text>
<text x="64.5" y="434.6" font-size="29" font-weight="bold" fill="#231815" text-anchor="end">0.5</text>
<text x="65" y="514.1" font-size="29" font-weight="bold" fill="#231815" text-anchor="end">0</text>
<text x="24" y="541.2" font-size="25" fill="#231815" textLength="110" lengthAdjust="spacing">2019年度</text>
<text x="171.1" y="541.2" font-size="26" fill="#231815" text-anchor="middle">20</text>
<text x="227.5" y="541.2" font-size="26" fill="#231815" text-anchor="middle">21</text>
<text x="284" y="541.2" font-size="26" fill="#231815" text-anchor="middle">22</text>
<text x="340.4" y="541.2" font-size="26" fill="#231815" text-anchor="middle">23</text>
<text x="396.8" y="541.2" font-size="26" fill="#231815" text-anchor="middle">24</text>
<text x="453.3" y="541.2" font-size="26" fill="#231815" text-anchor="middle">25</text>
<text x="509.8" y="541.2" font-size="26" fill="#231815" text-anchor="middle">26</text>
<text x="63" y="577.7" font-size="20" fill="#231815">（注）出所は矢野経済研究所。23年度は見込み額、</text>
<text x="113" y="605.1" font-size="20" fill="#231815">24年度以降は推計</text>
<text x="567" y="71" font-size="26" fill="#231815" style="writing-mode:vertical-rl" writing-mode="vertical-rl" textLength="166" lengthAdjust="spacing">サービスなど</text>
<text x="566.5" y="270" font-size="26" fill="#231815" style="writing-mode:vertical-rl" writing-mode="vertical-rl" textLength="134" lengthAdjust="spacing">ペット用品</text>
<text x="567" y="433.5" font-size="26" fill="#231815" style="writing-mode:vertical-rl" writing-mode="vertical-rl" textLength="159" lengthAdjust="spacing">ペットフード</text>
<text x="1015" y="157.8" font-size="28" fill="#231815" text-anchor="middle">2015年</text>
<text x="1014.5" y="466.5" font-size="29" fill="#231815" text-anchor="middle">2024年</text>
<text x="919" y="216" font-weight="bold" fill="#231815" textLength="193" lengthAdjust="spacing"><tspan font-size="45">1</tspan><tspan font-size="30">万</tspan><tspan font-size="45">6967</tspan><tspan font-size="30">円</tspan></text>
<text x="915" y="522.3" font-weight="bold" fill="#231815" textLength="198" lengthAdjust="spacing"><tspan font-size="45">2</tspan><tspan font-size="30">万</tspan><tspan font-size="45">4645</tspan><tspan font-size="30">円</tspan></text>
<text x="869" y="322.3" font-weight="bold" fill="#fff" textLength="281" lengthAdjust="spacing"><tspan font-size="36">約</tspan><tspan font-size="42">1.45倍</tspan><tspan font-size="34">に増加</tspan></text>
<text x="895" y="584.5" font-size="21" fill="#231815">（出所）総務省家計調査</text>
<text x="738.7" y="229" font-size="15.5" font-weight="bold" fill="#b06a4b" textLength="42.3" lengthAdjust="spacing">FOOD</text>
<text x="728.3" y="539.4" font-size="23" font-weight="bold" fill="#264b5e" textLength="63.4" lengthAdjust="spacing">FOOD</text>
</svg>
</body></html>
